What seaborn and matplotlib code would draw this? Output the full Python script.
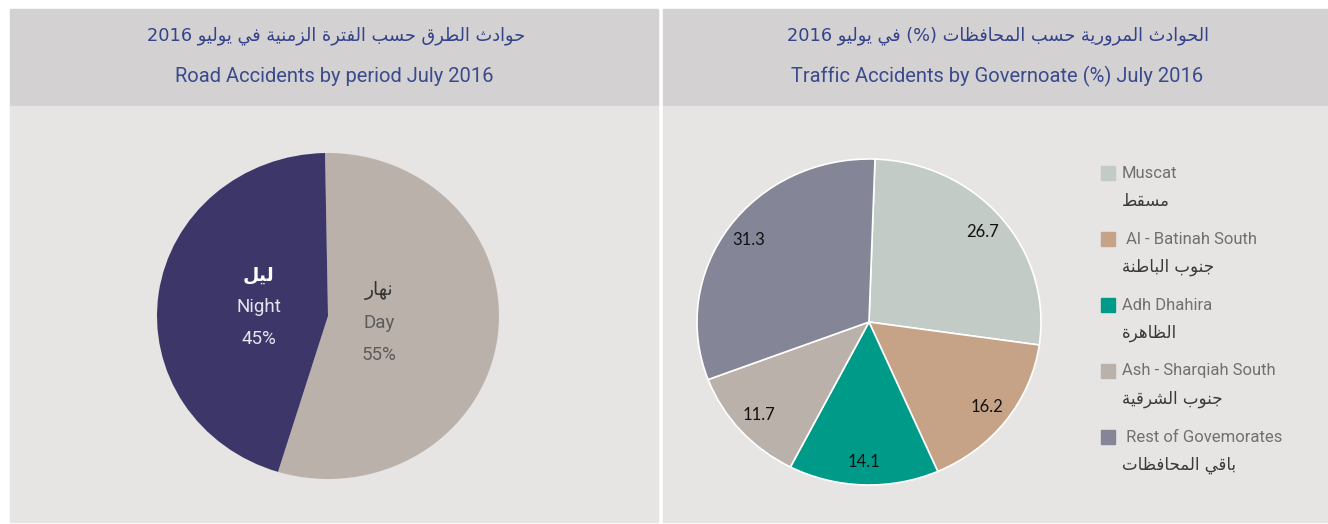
import matplotlib
matplotlib.use("Agg")
import matplotlib.pyplot as plt
from matplotlib.patches import Rectangle
import numpy as np
import seaborn as sns

# data
period_labels_en = ["Day", "Night"]
period_labels_ar = ["نهار", "ليل"]
period_share = [55, 45]

gov_en = ["Muscat", " Al - Batinah South", "Adh Dhahira", "Ash - Sharqiah South", " Rest of Govemorates"]
gov_ar = ["مسقط", "جنوب الباطنة", "الظاهرة", "جنوب الشرقية", "باقي المحافظات"]
gov_share = [26.7, 16.2, 14.1, 11.7, 31.3]

title_left_ar = "حوادث الطرق حسب الفترة الزمنية في يوليو"
title_left_en = "Road Accidents by period July 2016"
title_right_ar_a = "الحوادث المرورية حسب المحافظات"
title_right_ar_b = "في يوليو"
title_right_en = "Traffic Accidents by Governoate (%) July 2016"

# matplotlib has no arabic shaping, so pick presentation forms by hand
AR_FORMS = {
    "ا": (0xFE8D, False), "ب": (0xFE8F, True), "ة": (0xFE93, False), "ت": (0xFE95, True),
    "ث": (0xFE99, True), "ج": (0xFE9D, True), "ح": (0xFEA1, True), "د": (0xFEA9, False),
    "ر": (0xFEAD, False), "ز": (0xFEAF, False), "س": (0xFEB1, True), "ش": (0xFEB5, True),
    "ط": (0xFEC1, True), "ظ": (0xFEC5, True), "ف": (0xFED1, True), "ق": (0xFED5, True),
    "ل": (0xFEDD, True), "م": (0xFEE1, True), "ن": (0xFEE5, True), "ه": (0xFEE9, True),
    "و": (0xFEED, False), "ي": (0xFEF1, True),
}


def rtl(text):
    out = []
    for i, ch in enumerate(text):
        if ch not in AR_FORMS:
            out.append(ch)
            continue
        base, dual = AR_FORMS[ch]
        prev = text[i - 1] if i > 0 else ""
        nxt = text[i + 1] if i + 1 < len(text) else ""
        join_prev = prev in AR_FORMS and AR_FORMS[prev][1]
        join_next = dual and nxt in AR_FORMS
        off = 3 if (join_prev and join_next) else 1 if join_prev else 2 if join_next else 0
        out.append(chr(base + off))
    return "".join(out[::-1])


sns.set_theme(style="white")
plt.rcParams["font.family"] = ["Roboto", "DejaVu Sans"]

W, H = 1328, 524
fig = plt.figure(figsize=(W / 100, H / 100), dpi=100)
fig.patch.set_facecolor("white")

header_c = "#d3d1d2"
body_c = "#e7e5e3"
title_c = "#34428a"


def px_rect(x0, y0, x1, y1, color, z=-1):
    fig.patches.append(Rectangle((x0 / W, 1 - y1 / H), (x1 - x0) / W, (y1 - y0) / H,
                                 transform=fig.transFigure, color=color, zorder=z))


def px_text(x, y, s, **kw):
    fig.text(x / W, 1 - y / H, s, **kw)


# panels
for x0, x1 in [(10, 658), (663, 1328)]:
    px_rect(x0, 9, x1, 106, header_c)
    px_rect(x0, 106, x1, 522, body_c)

# titles
px_text(336, 36, "2016 " + rtl(title_left_ar), ha="center", va="center", fontsize=12.8,
        color=title_c, family="DejaVu Sans")
px_text(334, 76, title_left_en, ha="center", va="center", fontsize=14.5, color="#3a4a8c")
px_text(998, 36, "2016 " + rtl(title_right_ar_b) + " (%) " + rtl(title_right_ar_a),
        ha="center", va="center", fontsize=12.8, color=title_c, family="DejaVu Sans")
px_text(997, 76, title_right_en, ha="center", va="center", fontsize=14.5, color="#3a4a8c")


def pie_axes(cx, cy, rx, ry):
    return fig.add_axes([(cx - rx) / W, 1 - (cy + ry) / H, 2 * rx / W, 2 * ry / H])


# left pie: day / night
ax1 = pie_axes(328, 316, 171, 163)
period_colors = sns.color_palette(["#bab1ab", "#3d3769"])
wedges, _ = ax1.pie(period_share, colors=period_colors, startangle=91, counterclock=False,
                    wedgeprops=dict(linewidth=0))
ax1.set_aspect("auto")
ax1.set_xlim(-1, 1)
ax1.set_ylim(-1, 1)
ax1.axis("off")

label_r = [0.30, 0.41]
txt_colors = [("#333333", "#5c5c5c"), ("#ffffff", "#e6e4ef")]
ar_weight = ["normal", "bold"]
for w, r, en, ar, v, (c_ar, c_en), fw in zip(wedges, label_r, period_labels_en, period_labels_ar,
                                              period_share, txt_colors, ar_weight):
    mid = np.deg2rad((w.theta1 + w.theta2) / 2)
    pos = (r * np.cos(mid), r * np.sin(mid))
    ax1.annotate(rtl(ar), pos, xytext=(0, 32), textcoords="offset pixels", ha="center",
                 va="center", fontsize=13.5, color=c_ar, family="DejaVu Sans", fontweight=fw)
    ax1.annotate(en, pos, ha="center", va="center", fontsize=13.5, color=c_en)
    ax1.annotate(f"{v}%", pos, xytext=(0, -32), textcoords="offset pixels", ha="center",
                 va="center", fontsize=13.5, color=c_en)

# right pie: governorates
ax2 = pie_axes(869, 322, 172, 163)
gov_colors = sns.color_palette(["#c3cbc6", "#c6a387", "#009a88", "#bab1ab", "#858598"])
ax2.pie(gov_share, colors=gov_colors, startangle=88, counterclock=False,
        labels=[f"{v:.1f}" for v in gov_share], labeldistance=0.86,
        textprops=dict(fontsize=12, color="#111111", family="Lato", ha="center", va="center"),
        wedgeprops=dict(linewidth=1.2, edgecolor="white"))
ax2.set_aspect("auto")
ax2.set_xlim(-1, 1)
ax2.set_ylim(-1, 1)
ax2.axis("off")

# legend
for i, (en, ar, c) in enumerate(zip(gov_en, gov_ar, gov_colors)):
    y = 173 + 66 * i
    px_rect(1101, y - 7, 1115, y + 7, c, z=1)
    px_text(1122, y, en, ha="left", va="center", fontsize=12, color="#707070")
    px_text(1122, y + 28, rtl(ar), ha="left", va="center", fontsize=12, color="#3a3a3a",
            family="DejaVu Sans")

fig.savefig("out.png", dpi=100)
